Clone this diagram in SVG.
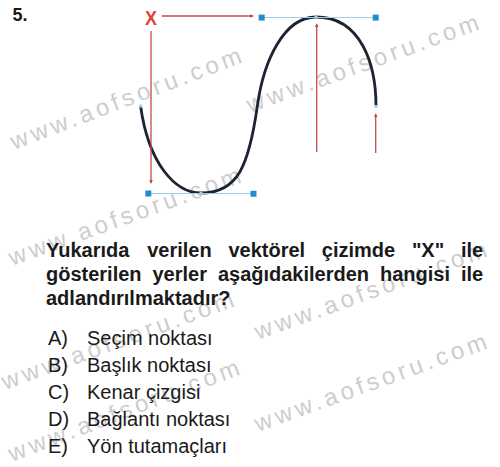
<svg xmlns="http://www.w3.org/2000/svg" width="500" height="467" viewBox="0 0 500 467">
<style>
.wm{font-family:"Liberation Sans",Arial,sans-serif;font-size:24px;letter-spacing:4px;fill:#cdcdcd}
.q{font-family:"Liberation Sans",Arial,sans-serif;font-size:20px;font-weight:bold;fill:#1a1a1a}
.o{font-family:"Liberation Sans",Arial,sans-serif;font-size:20px;fill:#1a1a1a}
.red{stroke:#c8484a;stroke-width:1.3;fill:none}
.hl{stroke:#a6cbe4;stroke-width:1.2;fill:none}
.hd{fill:#1f8ecf}
.an{fill:#9fd0ea}
</style>
<defs>
<marker id="ah" viewBox="0 0 6 6" refX="5" refY="3" markerWidth="4" markerHeight="4" orient="auto" markerUnits="userSpaceOnUse">
<path d="M0,0 L6,3 L0,6 z" fill="#c8484a"/>
</marker>
</defs>
<rect width="500" height="467" fill="#ffffff"/>
<g id="watermarks">
<text class="wm" transform="translate(14,150) rotate(-21)">www.aofsoru.com</text>
<text class="wm" transform="translate(250,113) rotate(-20)">www.aofsoru.com</text>
<text class="wm" transform="translate(12,266) rotate(-20)">www.aofsoru.com</text>
<text class="wm" transform="translate(258,340) rotate(-20)">www.aofsoru.com</text>
<text class="wm" transform="translate(5,390) rotate(-20)">www.aofsoru.com</text>
<text class="wm" transform="translate(12,462) rotate(-21)">www.aofsoru.com</text>
<text class="wm" transform="translate(258,432) rotate(-20)">www.aofsoru.com</text>
</g>
<g id="number"><text class="q" x="12.5" y="21" style="font-size:18px">5.</text></g>
<g id="label-x"><text x="145" y="25" font-family="Liberation Sans, Arial, sans-serif" font-size="20" font-weight="bold" fill="#e0403a" textLength="12" lengthAdjust="spacingAndGlyphs">X</text></g>
<g id="curve">
<path d="M140.7,106.7 C148.6,163.1 174.8,193 201,193 C238,193 249,165.5 257.5,105 C263.7,61 283.8,17 316,17 C361.3,17 376,64.7 376,106" fill="none" stroke="#1c2331" stroke-width="2.8"/>
</g>
<g id="handles">
<line class="hl" x1="148.3" y1="193.5" x2="253.5" y2="193.5"/>
<line class="hl" x1="261.7" y1="17.5" x2="375.7" y2="17.5"/>
<rect class="hd" x="145.3" y="190.5" width="6" height="6"/>
<rect class="hd" x="250.5" y="190.8" width="6" height="6"/>
<rect class="hd" x="258.7" y="14.6" width="6" height="6"/>
<rect class="hd" x="372.7" y="14.6" width="6" height="6"/>
<rect class="an" x="199.5" y="192" width="3" height="3"/>
<rect class="an" x="314.5" y="15.5" width="3" height="3"/>
<rect class="an" x="139.2" y="104.5" width="3" height="3"/>
<rect class="an" x="374.5" y="105" width="3" height="3"/>
</g>
<g id="connectors">
<line class="red" x1="162" y1="16" x2="253" y2="16" marker-end="url(#ah)"/>
<line class="red" x1="151" y1="31" x2="151" y2="183" marker-end="url(#ah)"/>
<line class="red" x1="316.7" y1="152" x2="316.7" y2="24" marker-end="url(#ah)"/>
<line class="red" x1="375.7" y1="153" x2="375.7" y2="114" marker-end="url(#ah)"/>
</g>
<g id="question">
<text class="q" y="257"><tspan x="46">Yukarıda</tspan><tspan x="147.2">verilen</tspan><tspan x="228.4">vektörel</tspan><tspan x="321.8">çizimde</tspan><tspan x="411.9">"X"</tspan><tspan x="460.9">ile</tspan></text>
<text class="q" y="281"><tspan x="46">gösterilen</tspan><tspan x="152.5">yerler</tspan><tspan x="217.9">aşağıdakilerden</tspan><tspan x="380">hangisi</tspan><tspan x="460.9">ile</tspan></text>
<text class="q" x="46" y="305">adlandırılmaktadır?</text>
</g>
<g id="options">
<text class="o" x="48" y="345">A)</text><text class="o" x="87" y="345">Seçim noktası</text>
<text class="o" x="48" y="372">B)</text><text class="o" x="87" y="372">Başlık noktası</text>
<text class="o" x="48" y="399">C)</text><text class="o" x="87" y="399">Kenar çizgisi</text>
<text class="o" x="48" y="426">D)</text><text class="o" x="87" y="426">Bağlantı noktası</text>
<text class="o" x="48" y="453">E)</text><text class="o" x="87" y="453">Yön tutamaçları</text>
</g>
</svg>
